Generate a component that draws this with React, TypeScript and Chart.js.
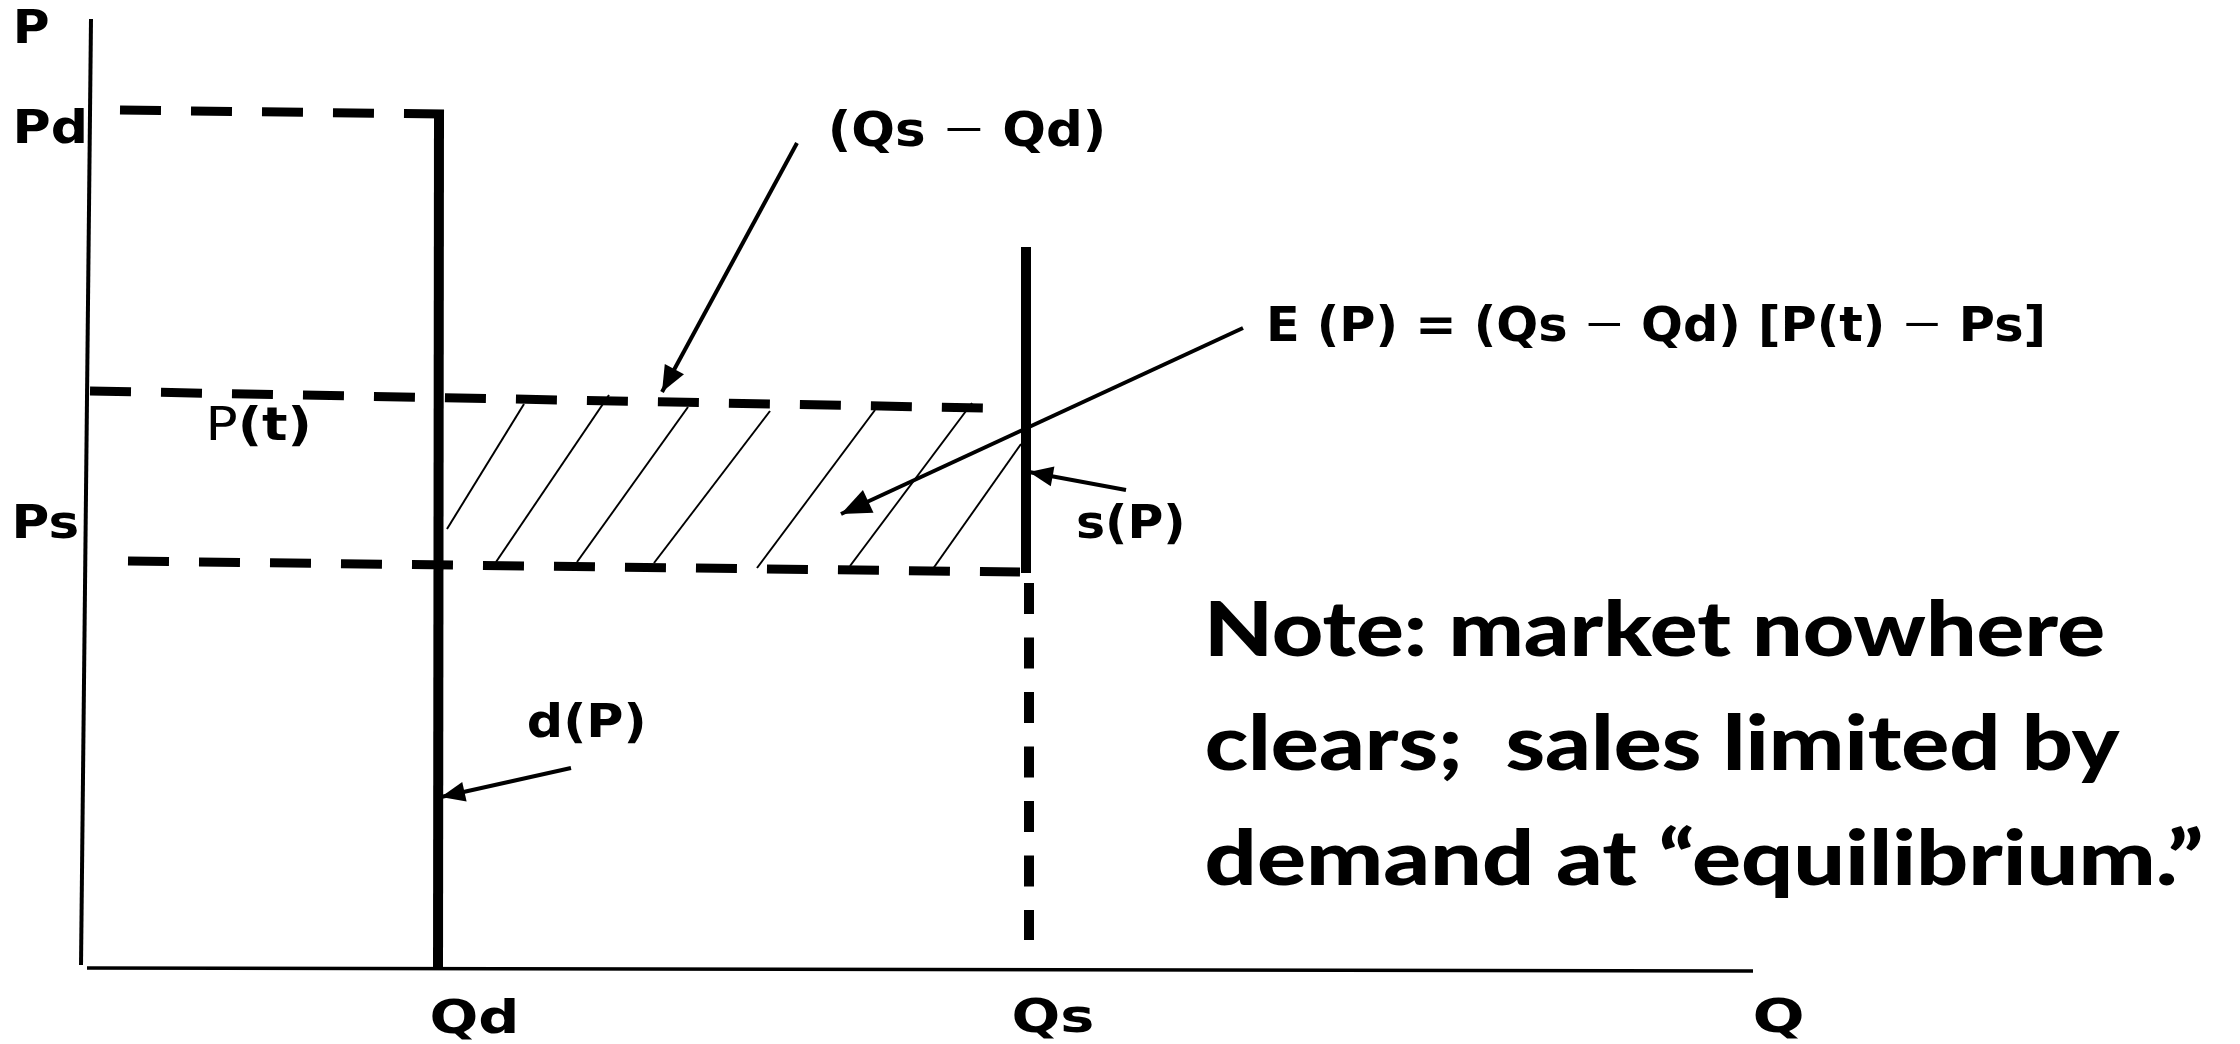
import { useEffect, useRef } from "react";
import { Chart, registerables } from "chart.js";

Chart.register(...registerables);

const W = 2240;
const H = 1044;

// Diagram coordinates: Q to the right, P upward, origin at the axes' corner.
type Pt = [number, number];

const priceAxis: Pt[] = [[6, 949], [-4, 3]];
const quantityAxis: Pt[] = [[2, 0], [1668, -3]];
const demandCurve: Pt[] = [[354, 856], [353, 0]];
const supplyCurve: Pt[] = [[941, 721], [941, 395]];
const supplyDrop: Pt[] = [[944, 385], [944, 28]];
const pdLevel: Pt[] = [[35, 858], [359, 854]];
const ptLevel: Pt[] = [[5, 577], [898, 560]];
const psLevel: Pt[] = [[43, 407], [935, 396]];
const hatchBottoms: Pt[] = [[362, 439], [411, 406], [492, 406], [569, 405], [672, 400], [765, 402], [845, 395]];
const hatchTops: Pt[] = [[439, 564], [524, 573], [603, 561], [685, 557], [790, 558], [887, 565], [936, 524]];
const excessArrow: Pt[] = [[712, 825], [577, 576]];
const expenditureArrow: Pt[] = [[1158, 640], [756, 454]];
const supplyArrow: Pt[] = [[1041, 478], [944, 496]];
const demandArrow: Pt[] = [[486, 200], [356, 171]];

// Texts
const axisLabels = ["P", "Pd", "Ps", "Qd", "Qs", "Q"];
const curveLabels = ["d(P)", "s(P)"];
const DASH = "\u2013";
const gapLabel = ["(Qs ", DASH, " Qd)"];
const formulaLabel = ["E (P) = (Qs ", DASH, " Qd) [P(t) ", DASH, " Ps]"];
const noteLines = ["Note: market nowhere", "clears;  sales limited by", "demand at \u201cequilibrium.\u201d"];

// Layout of the texts: [q, p (baseline), ink width]
const axisLabelLayout: [number, number, number][] = [
  [-68, 925, 31],
  [-68, 825, 67],
  [-69, 430, 61],
  [347, -65, 83],
  [929, -64, 78],
  [1670, -64, 47],
];
const curveLabelLayout: [number, number, number][] = [
  [444, 231, 114],
  [993, 430, 104],
];
const gapLayout: [number, number, number] = [747, 822, 270];
const formulaLayout: [number, number, number] = [1185, 627, 772];
const ptLayout: [number, number, number] = [125, 528, 98];
const noteLayout: [number, number, number][] = [
  [1125, 312, 893],
  [1122, 198, 913],
  [1122, 83, 994],
];

const LABEL_FONT = "bold 47px 'DejaVu Sans'";
const FORMULA_FONT = "bold 48px 'DejaVu Sans'";
const DASH_FONT = "200 76px 'DejaVu Sans'";
const DASH_DY = 5;
const NOTE_FONT = "900 76px Lato";

type Part = { text: string; font: string; dy?: number };

const toXY = (pts: Pt[]) => pts.map(([x, y]) => ({ x, y }));

function seg(pts: Pt[], width: number, dash: number[] = [], arrow = 0) {
  return {
    data: toXY(pts),
    showLine: true,
    borderColor: "#000",
    backgroundColor: "#000",
    borderWidth: width,
    borderDash: dash,
    borderCapStyle: "butt",
    pointRadius: 0,
    pointHoverRadius: 0,
    tension: 0,
    fill: false,
    arrowHead: arrow,
  } as any;
}

function drawFit(ctx: CanvasRenderingContext2D, parts: Part[], x: number, y: number, width: number) {
  ctx.save();
  let adv = 0;
  const offs: number[] = [];
  let left = 0;
  let right = 0;
  parts.forEach((p, i) => {
    ctx.font = p.font;
    const m = ctx.measureText(p.text);
    if (i === 0) left = m.actualBoundingBoxLeft;
    offs.push(adv);
    right = adv + m.actualBoundingBoxRight;
    adv += m.width;
  });
  const ink = left + right;
  const sx = width / ink;
  ctx.translate(x + left * sx, y);
  ctx.scale(sx, 1);
  ctx.fillStyle = "#000";
  ctx.textAlign = "left";
  ctx.textBaseline = "alphabetic";
  parts.forEach((p, i) => {
    ctx.font = p.font;
    ctx.fillText(p.text, offs[i], p.dy || 0);
  });
  ctx.restore();
}

const withDash = (pieces: string[]): Part[] =>
  pieces.map((t) =>
    t === DASH ? { text: t, font: DASH_FONT, dy: DASH_DY } : { text: t, font: FORMULA_FONT }
  );

const arrowPlugin = {
  id: "arrowHeads",
  afterDatasetsDraw(chart: any) {
    const ctx: CanvasRenderingContext2D = chart.ctx;
    chart.data.datasets.forEach((ds: any, i: number) => {
      if (!ds.arrowHead) return;
      const pts = chart.getDatasetMeta(i).data;
      const a = pts[pts.length - 2];
      const b = pts[pts.length - 1];
      const dx = b.x - a.x;
      const dy = b.y - a.y;
      const len = Math.hypot(dx, dy);
      const ux = dx / len;
      const uy = dy / len;
      const L = ds.arrowHead;
      const hw = L * 0.42;
      const bx = b.x - ux * L;
      const by = b.y - uy * L;
      ctx.save();
      ctx.fillStyle = "#000";
      ctx.beginPath();
      ctx.moveTo(b.x, b.y);
      ctx.lineTo(bx - uy * hw, by + ux * hw);
      ctx.lineTo(bx + uy * hw, by - ux * hw);
      ctx.closePath();
      ctx.fill();
      ctx.restore();
    });
  },
};

const textPlugin = {
  id: "diagramText",
  afterDraw(chart: any) {
    const ctx: CanvasRenderingContext2D = chart.ctx;
    const sx = chart.scales.x;
    const sy = chart.scales.y;
    const px = (q: number) => sx.getPixelForValue(q);
    const py = (p: number) => sy.getPixelForValue(p);
    axisLabels.forEach((t, i) => {
      const [q, p, w] = axisLabelLayout[i];
      drawFit(ctx, [{ text: t, font: LABEL_FONT }], px(q), py(p), w);
    });
    curveLabels.forEach((t, i) => {
      const [q, p, w] = curveLabelLayout[i];
      drawFit(ctx, [{ text: t, font: LABEL_FONT }], px(q), py(p), w);
    });
    drawFit(ctx, withDash(gapLabel), px(gapLayout[0]), py(gapLayout[1]), gapLayout[2]);
    drawFit(ctx, withDash(formulaLabel), px(formulaLayout[0]), py(formulaLayout[1]), formulaLayout[2]);
    drawFit(
      ctx,
      [
        { text: "P", font: "47px 'DejaVu Sans'" },
        { text: "(t)", font: LABEL_FONT },
      ],
      px(ptLayout[0]),
      py(ptLayout[1]),
      ptLayout[2]
    );
    noteLines.forEach((t, i) => {
      const [q, p, w] = noteLayout[i];
      drawFit(ctx, [{ text: t, font: NOTE_FONT }], px(q), py(p), w);
    });
  },
};

const bgPlugin = {
  id: "whiteBg",
  beforeDraw(chart: any) {
    const ctx = chart.ctx;
    ctx.save();
    ctx.fillStyle = "#fff";
    ctx.fillRect(0, 0, chart.width, chart.height);
    ctx.restore();
  },
};

export default function App() {
  const ref = useRef<HTMLCanvasElement>(null);
  useEffect(() => {
    const hatches = hatchBottoms.map((b, i) => seg([b, hatchTops[i]], 2));
    const chart = new Chart(ref.current!, {
      type: "scatter",
      data: {
        datasets: [
          seg(priceAxis, 4),
          seg(quantityAxis, 3.5),
          ...hatches,
          seg(pdLevel, 9, [41, 30]),
          seg(ptLevel, 9, [41, 30]),
          seg(psLevel, 9, [41, 30]),
          seg(supplyDrop, 10, [31, 23.5]),
          seg(demandCurve, 10),
          seg(supplyCurve, 10),
          seg(excessArrow, 4, [], 26),
          seg(expenditureArrow, 4, [], 30),
          seg(supplyArrow, 4, [], 24),
          seg(demandArrow, 4, [], 24),
        ],
      },
      options: {
        responsive: false,
        animation: false,
        devicePixelRatio: 1,
        layout: { padding: 0 },
        events: [],
        plugins: {
          legend: { display: false },
          tooltip: { enabled: false },
          title: { display: false },
        },
        scales: {
          x: { type: "linear", min: -85, max: W - 85, display: false },
          y: { type: "linear", min: -76, max: H - 76, display: false },
        },
      } as any,
      plugins: [bgPlugin, arrowPlugin, textPlugin],
    });
    return () => chart.destroy();
  }, []);
  return (
    <div style={{ position: "absolute", left: 0, top: 0, width: W, height: H, background: "#fff" }}>
      <canvas ref={ref} width={W} height={H} style={{ display: "block", width: W, height: H }} />
    </div>
  );
}
